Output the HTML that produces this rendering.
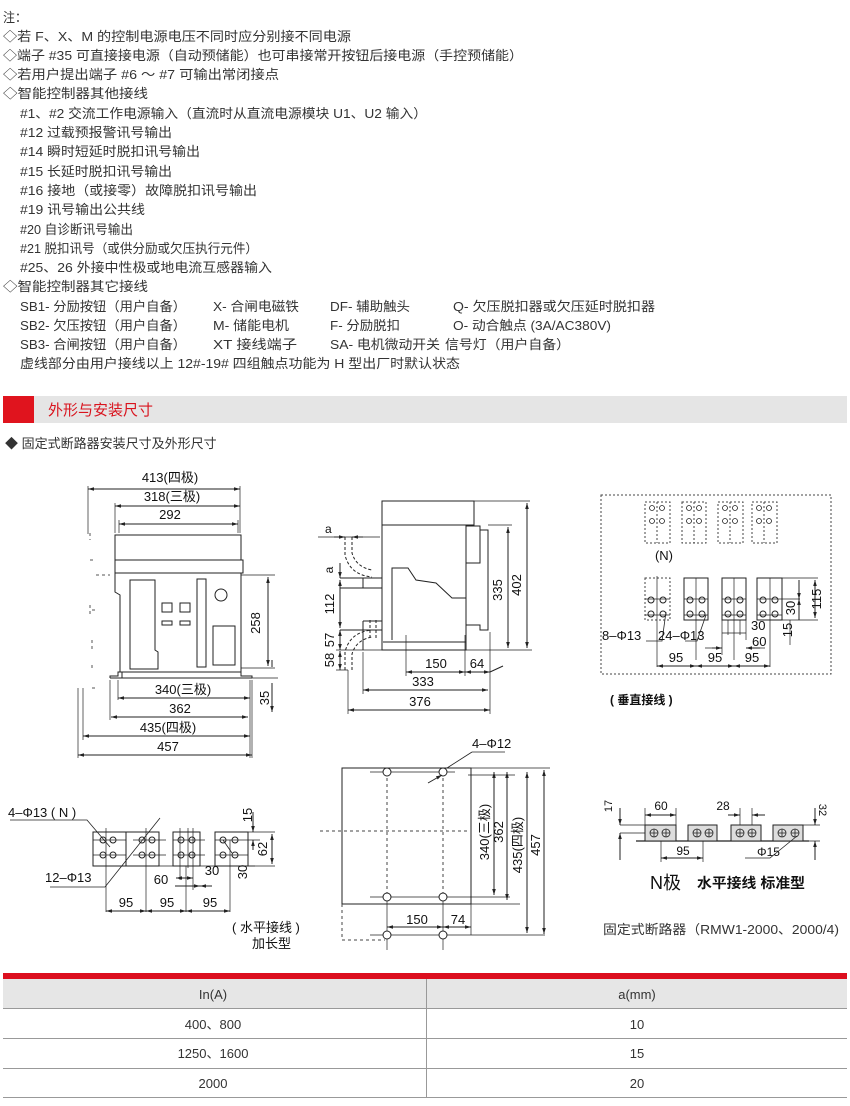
<!DOCTYPE html>
<html><head><meta charset="utf-8">
<style>
html,body{margin:0;padding:0;background:#fff;}
body{width:850px;height:1106px;position:relative;overflow:hidden;font-family:"Liberation Sans","Noto Sans CJK SC",sans-serif;}
svg{position:absolute;left:0;top:0;}
</style></head><body>
<svg width="850" height="1106" viewBox="0 0 850 1106" xmlns="http://www.w3.org/2000/svg" font-family="Liberation Sans, Noto Sans CJK SC, sans-serif">
<defs>
<marker id="ar" viewBox="0 0 10 10" refX="10" refY="5" markerWidth="6" markerHeight="6" orient="auto-start-reverse"><path d="M0,2 L10,5 L0,8 z" fill="#222"/></marker>
</defs>
<!-- notes -->
<g font-size="13" fill="#333" lengthAdjust="spacingAndGlyphs">
<text x="3" y="22" textLength="24" lengthAdjust="spacingAndGlyphs">注：</text>
<text x="3" y="41" textLength="348" lengthAdjust="spacingAndGlyphs">◇若 F、X、M 的控制电源电压不同时应分别接不同电源</text>
<text x="3" y="60" textLength="520" lengthAdjust="spacingAndGlyphs">◇端子 #35 可直接接电源（自动预储能）也可串接常开按钮后接电源（手控预储能）</text>
<text x="3" y="79" textLength="276" lengthAdjust="spacingAndGlyphs">◇若用户提出端子 #6 ～ #7 可输出常闭接点</text>
<text x="3" y="98" textLength="145" lengthAdjust="spacingAndGlyphs">◇智能控制器其他接线</text>
<text x="20" y="118" textLength="407" lengthAdjust="spacingAndGlyphs">#1、#2 交流工作电源输入（直流时从直流电源模块 U1、U2 输入）</text>
<text x="20" y="137" textLength="152" lengthAdjust="spacingAndGlyphs">#12 过载预报警讯号输出</text>
<text x="20" y="156" textLength="180" lengthAdjust="spacingAndGlyphs">#14 瞬时短延时脱扣讯号输出</text>
<text x="20" y="176" textLength="152" lengthAdjust="spacingAndGlyphs">#15 长延时脱扣讯号输出</text>
<text x="20" y="195" textLength="237" lengthAdjust="spacingAndGlyphs">#16 接地（或接零）故障脱扣讯号输出</text>
<text x="20" y="214" textLength="125" lengthAdjust="spacingAndGlyphs">#19 讯号输出公共线</text>
<text x="20" y="234" textLength="113" lengthAdjust="spacingAndGlyphs">#20 自诊断讯号输出</text>
<text x="20" y="253" textLength="238" lengthAdjust="spacingAndGlyphs">#21 脱扣讯号（或供分励或欠压执行元件）</text>
<text x="20" y="272" textLength="252" lengthAdjust="spacingAndGlyphs">#25、26 外接中性极或地电流互感器输入</text>
<text x="3" y="291" textLength="145" lengthAdjust="spacingAndGlyphs">◇智能控制器其它接线</text>
<text x="20" y="311" textLength="166" lengthAdjust="spacingAndGlyphs">SB1- 分励按钮（用户自备）</text>
<text x="213" y="311" textLength="86" lengthAdjust="spacingAndGlyphs">X- 合闸电磁铁</text>
<text x="330" y="311" textLength="80" lengthAdjust="spacingAndGlyphs">DF- 辅助触头</text>
<text x="453" y="311" textLength="202" lengthAdjust="spacingAndGlyphs">Q- 欠压脱扣器或欠压延时脱扣器</text>
<text x="20" y="330" textLength="166" lengthAdjust="spacingAndGlyphs">SB2- 欠压按钮（用户自备）</text>
<text x="213" y="330" textLength="76" lengthAdjust="spacingAndGlyphs">M- 储能电机</text>
<text x="330" y="330" textLength="70" lengthAdjust="spacingAndGlyphs">F- 分励脱扣</text>
<text x="453" y="330" textLength="158" lengthAdjust="spacingAndGlyphs">O- 动合触点 (3A/AC380V)</text>
<text x="20" y="349" textLength="166" lengthAdjust="spacingAndGlyphs">SB3- 合闸按钮（用户自备）</text>
<text x="213" y="349" textLength="84" lengthAdjust="spacingAndGlyphs">XT 接线端子</text>
<text x="330" y="349" textLength="110" lengthAdjust="spacingAndGlyphs">SA- 电机微动开关</text>
<text x="445" y="349" textLength="125" lengthAdjust="spacingAndGlyphs">信号灯（用户自备）</text>
<text x="20" y="368" textLength="440" lengthAdjust="spacingAndGlyphs">虚线部分由用户接线以上 12#-19# 四组触点功能为 H 型出厂时默认状态</text>
</g>
<!-- section header -->
<rect x="3" y="396" width="844" height="27" fill="#e5e5e5"/>
<rect x="3" y="396" width="31" height="27" fill="#e0141e"/>
<text x="48" y="415" font-size="15" fill="#d9141e">外形与安装尺寸</text>
<text x="5" y="448" font-size="13" fill="#333">◆ 固定式断路器安装尺寸及外形尺寸</text>

<g stroke="#222" stroke-width="1" fill="none">
<!-- drawing 1 front -->
<rect x="115" y="535" width="126" height="25"/>
<rect x="115" y="560" width="128" height="13"/>
<path d="M115,573 L115,592 L120,595 L120,672 M241,573 L241,672 M120,672 L241,672"/>
<path d="M130,580 L155,580 L155,650 L158,652 L158,669 L130,669 Z"/>
<rect x="162" y="603" width="10" height="9"/><rect x="180" y="603" width="10" height="9"/>
<rect x="162" y="621" width="10" height="4"/><rect x="180" y="621" width="10" height="4"/>
<rect x="197" y="579" width="9" height="88"/>
<circle cx="221" cy="595" r="6"/>
<rect x="213" y="626" width="22" height="39"/>
<path d="M110,678 L110,676 L118,676 L118,672 L122,672 L122,678 M241,672 L241,676 L252,676 L252,678 M110,678 L252,678"/>
<g stroke-dasharray="3,3" stroke="#555"><path d="M90,533 L90,540 M90,560 L94,560 M96,575 L110,575 M90,605 L90,615 M92,610 L98,610 M92,640 L92,650 M92,665 L92,668 M92,688 L98,688"/></g>
<path d="M88,486 L88,534 M240,486 L240,533 M115,503 L115,533 M119,520 L119,533 M238,520 L238,533" stroke-width="0.7"/>
<path d="M88,489 L240,489" marker-start="url(#ar)" marker-end="url(#ar)"/>
<path d="M115,506 L240,506" marker-start="url(#ar)" marker-end="url(#ar)"/>
<path d="M119,524 L238,524" marker-start="url(#ar)" marker-end="url(#ar)"/>
<path d="M241,575 L275,575 M241,668 L275,668 M252,678 L278,678" stroke-width="0.7"/>
<path d="M268,577 L268,666" marker-start="url(#ar)" marker-end="url(#ar)"/>
<path d="M272,660 L272,667 M272,683 L272,712" marker-end="url(#ar)"/>
<path d="M78,688 L78,758 M83,688 L83,740 M110,680 L110,720 M118,680 L118,700 M250,680 L250,758 M252,680 L252,758" stroke-width="0.7"/>
<path d="M118,698 L250,698" marker-start="url(#ar)" marker-end="url(#ar)"/>
<path d="M111,717 L248,717" marker-start="url(#ar)" marker-end="url(#ar)"/>
<path d="M83,736 L250,736" marker-start="url(#ar)" marker-end="url(#ar)"/>
<path d="M78,755 L252,755" marker-start="url(#ar)" marker-end="url(#ar)"/>

<!-- drawing 2 side -->
<rect x="382" y="501" width="92" height="24"/>
<path d="M382,525 L382,650 L466,650 L466,525 L382,525"/>
<path d="M466,526 L480,526 L480,563 L466,563 M480,530 L488,530 L488,630 L480,630 L480,625 L466,625 M480,532 L480,540"/>
<path d="M392,640 L392,568 L408,568 L416,580 L436,583 L452,598 L466,598"/>
<path d="M383,642 L466,642"/>
<path d="M340,578 L382,578 L382,588 L340,588 M363,578 L363,588 M363,621 L382,621 M363,621 L363,650 M340,630 L382,630"/>
<g stroke-dasharray="3,2"><path d="M345,537 L345,555 Q350,575 372,577 M352,537 L352,553 Q356,567 372,570 M370,620 L370,640 M376,620 L376,640 M345,670 L345,652 Q350,632 372,630 M352,670 L352,654 Q356,640 372,637"/></g>
<path d="M318,537 L380,537" stroke-width="0.7"/>
<path d="M334,537 L345,537" marker-end="url(#ar)"/><path d="M363,537 L352,537" marker-end="url(#ar)"/>
<path d="M340,563 L340,578" marker-end="url(#ar)"/>
<path d="M340,580 L340,628" marker-start="url(#ar)" marker-end="url(#ar)"/>
<path d="M340,630 L340,650" marker-start="url(#ar)" marker-end="url(#ar)"/>
<path d="M340,651 L340,670" marker-start="url(#ar)" marker-end="url(#ar)"/>
<path d="M336,650 L382,650 M336,670 L348,670" stroke-width="0.7"/>
<path d="M474,501 L530,501 M488,525 L512,525 M466,650 L532,650" stroke-width="0.7"/>
<path d="M508,527 L508,648" marker-start="url(#ar)" marker-end="url(#ar)"/>
<path d="M527,503 L527,648" marker-start="url(#ar)" marker-end="url(#ar)"/>
<path d="M406,635 L406,676 M465,635 L465,676 M490,632 L490,714 M363,652 L363,694 M348,670 L348,714" stroke-width="0.7"/>
<path d="M406,672 L465,672" marker-start="url(#ar)" marker-end="url(#ar)"/>
<path d="M465,672 L490,672" marker-start="url(#ar)" marker-end="url(#ar)"/>
<path d="M490,672 L503,666"/>
<path d="M363,690 L488,690" marker-start="url(#ar)" marker-end="url(#ar)"/>
<path d="M348,710 L490,710" marker-start="url(#ar)" marker-end="url(#ar)"/>

<!-- drawing 3 vertical wiring -->
<rect x="601" y="495" width="230" height="179" stroke-dasharray="2,2" stroke="#444"/>
<g stroke-dasharray="2,2" stroke="#444">
<rect x="645" y="502" width="25" height="41"/><rect x="682" y="502" width="24" height="41"/><rect x="718" y="502" width="25" height="41"/><rect x="752" y="502" width="25" height="41"/>
<rect x="645" y="578" width="25" height="42"/>
<path d="M657,502 L657,543 M694,502 L694,543 M730,502 L730,543 M764,502 L764,543"/>
</g>
<g stroke-width="0.8">
<circle cx="652" cy="508" r="2.5"/><circle cx="662" cy="508" r="2.5"/><circle cx="652" cy="521" r="2.5"/><circle cx="662" cy="521" r="2.5"/>
<circle cx="689" cy="508" r="2.5"/><circle cx="699" cy="508" r="2.5"/><circle cx="689" cy="521" r="2.5"/><circle cx="699" cy="521" r="2.5"/>
<circle cx="725" cy="508" r="2.5"/><circle cx="735" cy="508" r="2.5"/><circle cx="725" cy="521" r="2.5"/><circle cx="735" cy="521" r="2.5"/>
<circle cx="759" cy="508" r="2.5"/><circle cx="769" cy="508" r="2.5"/><circle cx="759" cy="521" r="2.5"/><circle cx="769" cy="521" r="2.5"/>
</g>
<rect x="684" y="578" width="24" height="42"/><rect x="722" y="578" width="24" height="42"/><rect x="757" y="578" width="25" height="42"/>
<path d="M657,576 L657,667 M696,578 L696,660 M734,578 L734,660 M770,578 L770,667 M684,599 L708,599 M722,599 L746,599 M757,599 L782,599 M645,599 L670,599 M645,615 L670,615 M684,615 L708,615 M722,615 L746,615 M757,615 L782,615" stroke-width="0.7"/>
<g stroke-width="1">
<circle cx="651" cy="600" r="3"/><circle cx="663" cy="600" r="3"/><circle cx="651" cy="614" r="3"/><circle cx="663" cy="614" r="3"/>
<circle cx="690" cy="600" r="3"/><circle cx="702" cy="600" r="3"/><circle cx="690" cy="614" r="3"/><circle cx="702" cy="614" r="3"/>
<circle cx="728" cy="600" r="3"/><circle cx="740" cy="600" r="3"/><circle cx="728" cy="614" r="3"/><circle cx="740" cy="614" r="3"/>
<circle cx="763" cy="600" r="3"/><circle cx="775" cy="600" r="3"/><circle cx="763" cy="614" r="3"/><circle cx="775" cy="614" r="3"/>
</g>
<path d="M646,641 L662,641 L666,612 M685,641 L697,641 L706,615" stroke-width="0.8"/>
<path d="M782,578 L818,578 M782,620 L818,620 M782,599 L800,599 M790,620 L790,645" stroke-width="0.7"/>
<path d="M815,580 L815,618" marker-start="url(#ar)" marker-end="url(#ar)"/>
<path d="M799,580 L799,599" marker-end="url(#ar)"/>
<path d="M799,620 L799,599" marker-end="url(#ar)"/>
<path d="M722,633 L746,633 M722,620 L722,655 M746,620 L746,640 M728,620 L728,635 M740,620 L740,635" stroke-width="0.7"/>
<path d="M722,648 L705,648 M750,648 L765,648" stroke-width="0.7"/>
<path d="M712,648 L722,648" marker-end="url(#ar)"/><path d="M760,648 L746,648" marker-end="url(#ar)"/>
<path d="M657,666 L696,666" marker-start="url(#ar)" marker-end="url(#ar)"/>
<path d="M696,666 L734,666" marker-start="url(#ar)" marker-end="url(#ar)"/>
<path d="M734,666 L770,666" marker-start="url(#ar)" marker-end="url(#ar)"/>

<!-- drawing 4 horizontal -->
<rect x="93" y="832" width="66" height="34"/><path d="M126,832 L126,866"/>
<rect x="173" y="832" width="27" height="34"/><rect x="215" y="832" width="33" height="34"/>
<path d="M158,866 L255,866 M93,840 L126,840 M133,840 L166,840 M93,855 L126,855 M133,855 L166,855 M173,840 L205,840 M173,855 L205,855 M215,840 L248,840 M215,855 L248,855" stroke-width="0.7"/>
<path d="M106,828 L106,912 M146,828 L146,912 M180,828 L180,880 M188,828 L188,868 M193,828 L193,890 M230,840 L230,912 M186,866 L186,912" stroke-width="0.7"/>
<g stroke-width="1">
<circle cx="103" cy="840" r="3"/><circle cx="113" cy="840" r="3"/><circle cx="103" cy="855" r="3"/><circle cx="113" cy="855" r="3"/>
<circle cx="142" cy="840" r="3"/><circle cx="152" cy="840" r="3"/><circle cx="142" cy="855" r="3"/><circle cx="152" cy="855" r="3"/>
<circle cx="181" cy="840" r="3"/><circle cx="192" cy="840" r="3"/><circle cx="181" cy="855" r="3"/><circle cx="192" cy="855" r="3"/>
<circle cx="223" cy="840" r="3"/><circle cx="235" cy="840" r="3"/><circle cx="223" cy="855" r="3"/><circle cx="235" cy="855" r="3"/>
</g>
<path d="M10,820 L87,820 L110,847 M50,887 L105,887 L160,818 M223,840 L232,853" stroke-width="0.8"/>
<path d="M106,911 L146,911" marker-start="url(#ar)" marker-end="url(#ar)"/>
<path d="M146,911 L186,911" marker-start="url(#ar)" marker-end="url(#ar)"/>
<path d="M186,911 L230,911" marker-start="url(#ar)" marker-end="url(#ar)"/>
<path d="M175,886 L200,886" marker-end="url(#ar)"/><path d="M212,886 L200,886" marker-end="url(#ar)"/>
<path d="M176,878 L193,878" marker-start="url(#ar)" marker-end="url(#ar)"/>
<path d="M248,832 L275,832 M248,866 L275,866 M248,840 L260,840" stroke-width="0.7"/>
<path d="M272,834 L272,864" marker-start="url(#ar)" marker-end="url(#ar)"/>
<path d="M253,812 L253,832" marker-end="url(#ar)"/>
<path d="M253,850 L253,840" marker-end="url(#ar)"/>

<!-- drawing 5 bottom view -->
<rect x="342" y="768" width="129" height="136"/>
<path d="M471,904 L471,935 M370,772 L455,772 M370,897 L510,897 M370,935 L545,935 M471,768 L550,768 M468,775 L515,775 M468,904 L520,904" stroke-width="0.7"/>
<g stroke-dasharray="3,3" stroke="#444"><path d="M387,772 L387,897 M443,772 L443,897 M320,831 L470,831 M342,904 L342,940 M342,940 L385,940"/></g>
<path d="M387,897 L387,950 M443,897 L443,950" stroke-width="0.7"/>
<g fill="#fff"><circle cx="387" cy="772" r="4"/><circle cx="443" cy="772" r="4"/><circle cx="387" cy="897" r="4"/><circle cx="443" cy="897" r="4"/><circle cx="387" cy="935" r="4"/><circle cx="443" cy="935" r="4"/></g>
<path d="M472,752 L505,752 M472,752 L447,768" stroke-width="0.8"/>
<path d="M428,783 L442,775" marker-end="url(#ar)"/>
<path d="M494,772 L494,895" marker-start="url(#ar)" marker-end="url(#ar)"/>
<path d="M507,772 L507,900" marker-start="url(#ar)" marker-end="url(#ar)"/>
<path d="M527,772 L527,933" marker-start="url(#ar)" marker-end="url(#ar)"/>
<path d="M544,770 L544,934" marker-start="url(#ar)" marker-end="url(#ar)"/>
<path d="M387,927 L443,927" marker-start="url(#ar)" marker-end="url(#ar)"/>
<path d="M443,927 L471,927" marker-start="url(#ar)" marker-end="url(#ar)"/>

<!-- drawing 6 standard -->
<path d="M636,841 L809,841" stroke-width="1.2"/>
<g fill="#ddd"><rect x="645" y="825" width="31" height="16"/><rect x="688" y="825" width="29" height="16"/><rect x="731" y="825" width="30" height="16"/><rect x="773" y="825" width="30" height="16"/></g>
<g stroke-width="0.8">
<circle cx="654" cy="833" r="4"/><circle cx="666" cy="833" r="4"/><circle cx="697" cy="833" r="4"/><circle cx="709" cy="833" r="4"/>
<circle cx="740" cy="833" r="4"/><circle cx="752" cy="833" r="4"/><circle cx="782" cy="833" r="4"/><circle cx="795" cy="833" r="4"/>
<path d="M650,833 L658,833 M654,829 L654,837 M662,833 L670,833 M666,829 L666,837 M693,833 L701,833 M697,829 L697,837 M705,833 L713,833 M709,829 L709,837 M736,833 L744,833 M740,829 L740,837 M748,833 L756,833 M752,829 L752,837 M778,833 L786,833 M782,829 L782,837 M791,833 L799,833 M795,829 L795,837"/>
</g>
<path d="M645,808 L645,825 M676,808 L676,825 M740,808 L740,825 M752,808 L752,825 M661,841 L661,862 M703,841 L703,862 M620,825 L645,825 M620,833 L645,833 M803,825 L820,825 M809,841 L820,841" stroke-width="0.7"/>
<path d="M645,815 L676,815" marker-start="url(#ar)" marker-end="url(#ar)"/>
<path d="M728,815 L740,815" marker-end="url(#ar)"/><path d="M765,815 L752,815" marker-end="url(#ar)"/>
<path d="M661,858 L703,858" marker-start="url(#ar)" marker-end="url(#ar)"/>
<path d="M620,808 L620,825" marker-end="url(#ar)"/><path d="M620,860 L620,833" marker-end="url(#ar)"/>
<path d="M815,808 L815,825" marker-end="url(#ar)"/><path d="M815,860 L815,841" marker-end="url(#ar)"/>
<path d="M745,858 L770,858 L797,836" stroke-width="0.8"/>
</g>

<!-- drawing labels -->
<g font-size="13" fill="#111">
<text x="170" y="482" text-anchor="middle">413(四极)</text>
<text x="172" y="501" text-anchor="middle">318(三极)</text>
<text x="170" y="519" text-anchor="middle">292</text>
<text x="260" y="623" text-anchor="middle" transform="rotate(-90 260 623)">258</text>
<text x="269" y="698" text-anchor="middle" transform="rotate(-90 269 698)">35</text>
<text x="183" y="694" text-anchor="middle">340(三极)</text>
<text x="180" y="713" text-anchor="middle">362</text>
<text x="168" y="732" text-anchor="middle">435(四极)</text>
<text x="168" y="751" text-anchor="middle">457</text>

<text x="325" y="533" font-size="12">a</text>
<text x="333" y="570" font-size="12" text-anchor="middle" transform="rotate(-90 333 570)">a</text>
<text x="334" y="604" text-anchor="middle" transform="rotate(-90 334 604)">112</text>
<text x="334" y="640" text-anchor="middle" transform="rotate(-90 334 640)">57</text>
<text x="334" y="660" text-anchor="middle" transform="rotate(-90 334 660)">58</text>
<text x="502" y="590" text-anchor="middle" transform="rotate(-90 502 590)">335</text>
<text x="521" y="585" text-anchor="middle" transform="rotate(-90 521 585)">402</text>
<text x="436" y="668" text-anchor="middle">150</text>
<text x="477" y="668" text-anchor="middle">64</text>
<text x="423" y="686" text-anchor="middle">333</text>
<text x="420" y="706" text-anchor="middle">376</text>

<text x="664" y="560" text-anchor="middle">(N)</text>
<text x="602" y="640">8–Φ13</text>
<text x="658" y="640">24–Φ13</text>
<text x="751" y="630">30</text>
<text x="752" y="646">60</text>
<text x="676" y="662" text-anchor="middle">95</text>
<text x="715" y="662" text-anchor="middle">95</text>
<text x="752" y="662" text-anchor="middle">95</text>
<text x="795" y="608" text-anchor="middle" transform="rotate(-90 795 608)">30</text>
<text x="792" y="630" text-anchor="middle" transform="rotate(-90 792 630)">15</text>
<text x="821" y="599" text-anchor="middle" transform="rotate(-90 821 599)">115</text>
<text x="610" y="704" font-size="12" font-weight="bold">( 垂直接线 )</text>

<text x="8" y="817">4–Φ13 ( N )</text>
<text x="45" y="882">12–Φ13</text>
<text x="126" y="907" text-anchor="middle">95</text>
<text x="167" y="907" text-anchor="middle">95</text>
<text x="210" y="907" text-anchor="middle">95</text>
<text x="161" y="884" text-anchor="middle">60</text>
<text x="212" y="875" text-anchor="middle">30</text>
<text x="252" y="815" text-anchor="middle" transform="rotate(-90 252 815)">15</text>
<text x="267" y="849" text-anchor="middle" transform="rotate(-90 267 849)">62</text>
<text x="247" y="872" text-anchor="middle" transform="rotate(-90 247 872)">30</text>
<text x="232" y="932">( 水平接线 )</text>
<text x="252" y="948">加长型</text>

<text x="472" y="748">4–Φ12</text>
<text x="489" y="832" text-anchor="middle" transform="rotate(-90 489 832)">340(三极)</text>
<text x="503" y="832" text-anchor="middle" transform="rotate(-90 503 832)">362</text>
<text x="522" y="845" text-anchor="middle" transform="rotate(-90 522 845)">435(四极)</text>
<text x="540" y="845" text-anchor="middle" transform="rotate(-90 540 845)">457</text>
<text x="417" y="924" text-anchor="middle">150</text>
<text x="458" y="924" text-anchor="middle">74</text>

<text x="661" y="810" text-anchor="middle" font-size="12">60</text>
<text x="723" y="810" text-anchor="middle" font-size="12">28</text>
<text x="683" y="855" text-anchor="middle" font-size="12">95</text>
<text x="757" y="856" font-size="12">Φ15</text>
<text x="612" y="806" text-anchor="middle" font-size="11" transform="rotate(-90 612 806)">17</text>
<text x="819" y="810" text-anchor="middle" font-size="11" transform="rotate(90 819 810)">32</text>
<text x="650" y="889" font-size="18">N极</text>
<text x="697" y="888" font-size="14" font-weight="bold" textLength="108" lengthAdjust="spacingAndGlyphs">水平接线 标准型</text>
<text x="603" y="934" font-size="13" fill="#333" textLength="236" lengthAdjust="spacingAndGlyphs">固定式断路器（RMW1-2000、2000/4)</text>
</g>

<!-- table -->
<rect x="3" y="973" width="844" height="6" fill="#dc0f1f"/>
<rect x="3" y="979" width="844" height="29" fill="#e6e6e6"/>
<g stroke="#999" stroke-width="1">
<line x1="3" y1="1008.5" x2="847" y2="1008.5"/>
<line x1="3" y1="1038.5" x2="847" y2="1038.5"/>
<line x1="3" y1="1068.5" x2="847" y2="1068.5"/>
<line x1="3" y1="1097.5" x2="847" y2="1097.5"/>
<line x1="426.5" y1="979" x2="426.5" y2="1097"/>
</g>
<g font-size="13" fill="#333" text-anchor="middle">
<text x="213" y="999">In(A)</text><text x="637" y="999">a(mm)</text>
<text x="213" y="1029">400、800</text><text x="637" y="1029">10</text>
<text x="213" y="1058">1250、1600</text><text x="637" y="1058">15</text>
<text x="213" y="1088">2000</text><text x="637" y="1088">20</text>
</g>
</svg>
</body></html>
